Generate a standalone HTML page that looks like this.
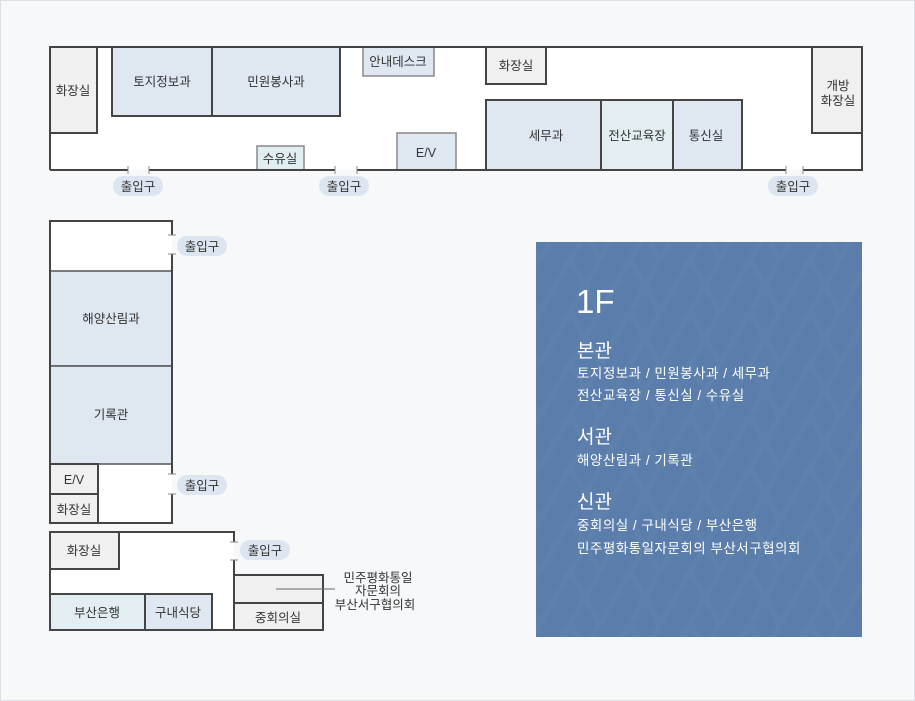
<!DOCTYPE html>
<html><head><meta charset="utf-8"><style>
html,body{margin:0;padding:0;background:#f7f8fa}
svg{display:block}
text{font-family:"Liberation Sans","Noto Sans CJK KR",sans-serif;fill:#333;font-size:12.5px}
</style></head><body>
<svg width="915" height="701" viewBox="0 0 915 701" xmlns="http://www.w3.org/2000/svg">
<defs>
<pattern id="tri" width="60" height="52" patternUnits="userSpaceOnUse">
<path d="M0 52 L30 0 L60 52 M-30 0 L0 52 M30 52 L60 0 L90 52" stroke="#6a8cb6" stroke-width="6" fill="none" opacity="0.2"/>
</pattern>
</defs>
<rect x="0.5" y="0.5" width="914" height="700" fill="#f7f8fa" stroke="#dcdfe4"/>

<!-- main building -->
<rect x="50" y="47" width="812" height="123" fill="#fff"/>
<g stroke-width="2">
<rect x="50" y="47" width="47" height="86" fill="#f0f0f0" stroke="#444"/>
<rect x="112" y="47" width="100" height="69" fill="#dfe7f1" stroke="#444"/>
<rect x="212" y="47" width="128" height="69" fill="#dfe7f1" stroke="#444"/>
<rect x="486" y="47" width="60" height="37" fill="#f0f0f0" stroke="#444"/>
<rect x="486" y="100" width="115" height="70" fill="#dfe7f1" stroke="#444"/>
<rect x="601" y="100" width="72" height="70" fill="#e2eef2" stroke="#444"/>
<rect x="673" y="100" width="69" height="70" fill="#dfe7f1" stroke="#444"/>
<rect x="812" y="47" width="50" height="86" fill="#f0f0f0" stroke="#444"/>
</g>
<g stroke="#888" stroke-width="1.5">
<rect x="363" y="47" width="71" height="29" fill="#dfe7f1"/>
<rect x="257" y="146" width="47" height="24" fill="#e0eef2"/>
<rect x="397" y="133" width="59" height="37" fill="#dfe7f1"/>
</g>
<g stroke="#444" stroke-width="2" fill="none">
<path d="M50 170 L50 47 L862 47 L862 170 L803 170 M786 170 L357 170 M335 170 L149 170 M128 170 L50 170"/>
</g>
<g stroke="#888" stroke-width="1">
<path d="M128 166v8M149 166v8M335 166v8M357 166v8M786 166v8M803 166v8"/>
</g>
<g font-size="13">
<text x="73" y="95" text-anchor="middle" font-size="13">화장실</text>
<text x="162" y="86" text-anchor="middle" font-size="13">토지정보과</text>
<text x="276" y="86" text-anchor="middle" font-size="13">민원봉사과</text>
<text x="398" y="66" text-anchor="middle" font-size="13">안내데스크</text>
<text x="280" y="163" text-anchor="middle" font-size="13">수유실</text>
<text x="426" y="157" text-anchor="middle">E/V</text>
<text x="516" y="70" text-anchor="middle" font-size="13">화장실</text>
<text x="546" y="140" text-anchor="middle" font-size="13">세무과</text>
<text x="637" y="140" text-anchor="middle" font-size="13">전산교육장</text>
<text x="706" y="140" text-anchor="middle" font-size="13">통신실</text>
<text x="838" y="90" text-anchor="middle" font-size="13">개방</text>
<text x="838" y="105" text-anchor="middle" font-size="13">화장실</text>
</g>

<!-- west building -->
<rect x="50" y="221" width="122" height="302" fill="#fff"/>
<g stroke="#444" stroke-width="2">
<rect x="50" y="271" width="122" height="95" fill="#dfe7f1" stroke="#555" stroke-width="1.5"/>
<rect x="50" y="366" width="122" height="98" fill="#dfe7f1" stroke="#555" stroke-width="1.5"/>
<rect x="50" y="464" width="48" height="30" fill="#f0f0f0"/>
<rect x="50" y="494" width="48" height="29" fill="#f0f0f0"/>
<path d="M172 235 L172 221 L50 221 L50 523 L172 523 L172 494 M172 474 L172 254" fill="none"/>
</g>
<g stroke="#888" stroke-width="1"><path d="M168 235h8M168 254h8M168 474h8M168 494h8"/></g>
<text x="111" y="323" text-anchor="middle" font-size="13">해양산림과</text>
<text x="111" y="419" text-anchor="middle" font-size="13">기록관</text>
<text x="74" y="484" text-anchor="middle" font-size="12">E/V</text>
<text x="74" y="514" text-anchor="middle" font-size="13">화장실</text>

<!-- south building -->
<rect x="50" y="532" width="184" height="98" fill="#fff"/>
<g stroke="#444" stroke-width="2">
<rect x="50" y="532" width="69" height="37" fill="#f0f0f0"/>
<rect x="50" y="594" width="95" height="36" fill="#e2eef2"/>
<rect x="145" y="594" width="67" height="36" fill="#dfe7f1"/>
<rect x="234" y="575" width="89" height="28" fill="#f0f0f0"/>
<rect x="234" y="603" width="89" height="27" fill="#f0f0f0"/>
<path d="M234 542 L234 532 L50 532 L50 630 L323 630 M234 560 L234 630" fill="none"/>
</g>
<g stroke="#888" stroke-width="1"><path d="M230 542h8M230 560h8"/></g>
<line x1="276" y1="589" x2="335" y2="589" stroke="#666" stroke-width="1"/>
<text x="84" y="555" text-anchor="middle" font-size="13">화장실</text>
<text x="97" y="617" text-anchor="middle" font-size="13">부산은행</text>
<text x="178" y="617" text-anchor="middle" font-size="13">구내식당</text>
<text x="278" y="622" text-anchor="middle" font-size="13">중회의실</text>
<text x="378" y="582" text-anchor="middle" font-size="13">민주평화통일</text>
<text x="378" y="595" text-anchor="middle" font-size="13">자문회의</text>
<text x="375" y="609" text-anchor="middle" font-size="13">부산서구협의회</text>

<!-- pills -->
<g fill="#dde6f0">
<rect x="113" y="176" width="50" height="20" rx="10"/>
<rect x="319" y="176" width="50" height="20" rx="10"/>
<rect x="768" y="176" width="50" height="20" rx="10"/>
<rect x="177" y="236" width="50" height="20" rx="10"/>
<rect x="177" y="475" width="50" height="20" rx="10"/>
<rect x="240" y="540" width="50" height="20" rx="10"/>
</g>
<g font-size="12">
<text x="138" y="191" text-anchor="middle">출입구</text>
<text x="344" y="191" text-anchor="middle">출입구</text>
<text x="793" y="191" text-anchor="middle">출입구</text>
<text x="202" y="251" text-anchor="middle">출입구</text>
<text x="202" y="490" text-anchor="middle">출입구</text>
<text x="265" y="555" text-anchor="middle">출입구</text>
</g>

<!-- info panel -->
<rect x="536" y="242" width="326" height="395" fill="#5b7dab"/>
<rect x="536" y="242" width="326" height="395" fill="url(#tri)"/>
<g>
<text x="576" y="313" style="fill:#fff;font-size:33px">1F</text>
<text x="577" y="357" style="fill:#fff;font-size:19px">본관</text>
<text x="577" y="378" style="fill:#fff;font-size:13.5px;letter-spacing:0.5px">토지정보과 / 민원봉사과 / 세무과</text>
<text x="577" y="400" style="fill:#fff;font-size:13.5px;letter-spacing:0.5px">전산교육장 / 통신실 / 수유실</text>
<text x="577" y="443" style="fill:#fff;font-size:19px">서관</text>
<text x="577" y="465" style="fill:#fff;font-size:13.5px;letter-spacing:0.5px">해양산림과 / 기록관</text>
<text x="577" y="508" style="fill:#fff;font-size:19px">신관</text>
<text x="577" y="530" style="fill:#fff;font-size:13.5px;letter-spacing:0.5px">중회의실 / 구내식당 / 부산은행</text>
<text x="577" y="553" style="fill:#fff;font-size:13.5px;letter-spacing:0.5px">민주평화통일자문회의 부산서구협의회</text>
</g>
</svg>
</body></html>
